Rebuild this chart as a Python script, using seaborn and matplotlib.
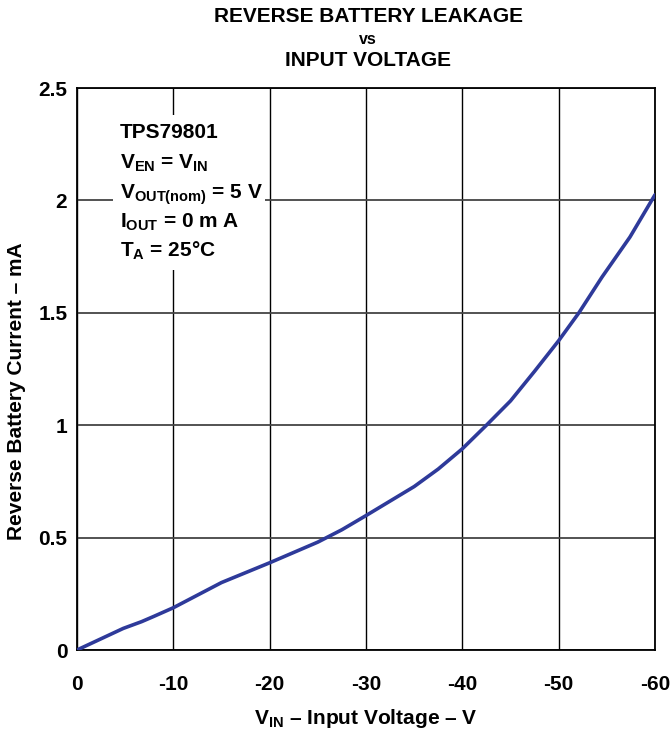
import numpy as np
import pandas as pd
import matplotlib
matplotlib.use("Agg")
import matplotlib.pyplot as plt
from matplotlib.patches import Rectangle
import seaborn as sns

# values
vin = [0, -4.8, -6.7, -8, -10, -15, -20, -25, -27.5, -30, -35, -37.5, -40, -42.5, -45, -47.5, -50, -52.1, -54.5, -57.4, -60]
leak = [0.0, 0.096, 0.126, 0.15, 0.188, 0.3, 0.388, 0.48, 0.535, 0.598, 0.727, 0.805, 0.895, 1.0, 1.108, 1.24, 1.376, 1.5, 1.659, 1.837, 2.025]

xticks = [0, -10, -20, -30, -40, -50, -60]
yticks = [0, 0.5, 1, 1.5, 2, 2.5]
ytick_labels = ["0", "0.5", "1", "1.5", "2", "2.5"]

note_lines = ["TPS79801",
              "V$_{\\mathrm{EN}}$ = V$_{\\mathrm{IN}}$",
              "V$_{\\mathrm{OUT(nom)}}$ = 5 V",
              "I$_{\\mathrm{OUT}}$ = 0 m A",
              "T$_{\\mathrm{A}}$ = 25°C"]

df = pd.DataFrame({"vin": vin, "leak": leak})

sns.set_style("white")
plt.rcParams["font.family"] = ["Liberation Sans", "DejaVu Sans"]
plt.rcParams["font.weight"] = "bold"
plt.rcParams["text.color"] = "black"
plt.rcParams["axes.labelcolor"] = "black"
plt.rcParams["xtick.color"] = "black"
plt.rcParams["ytick.color"] = "black"
plt.rcParams["mathtext.fontset"] = "custom"
plt.rcParams["mathtext.rm"] = "Liberation Sans:bold"
plt.rcParams["mathtext.bf"] = "Liberation Sans:bold"
plt.rcParams["mathtext.it"] = "Liberation Sans:bold"

W, H = 671, 733
fig = plt.figure(figsize=(W / 100, H / 100), dpi=100)
ax = fig.add_axes([77 / W, 1 - 650 / H, (655 - 77) / W, (650 - 88) / H])

sns.lineplot(data=df, x="vin", y="leak", ax=ax, color="#2E3A9A", linewidth=2.6, zorder=4)

ax.set_xlim(0, -60)
ax.set_ylim(0, 2.5)
ax.set_xticks(xticks)
ax.set_xticklabels([str(t) for t in xticks])
ax.set_yticks(yticks)
ax.set_yticklabels(ytick_labels)
ax.xaxis.grid(True, color="black", linewidth=1.0)
ax.yaxis.grid(True, color="#444444", linewidth=1.3)
ax.set_axisbelow(True)
for s in ax.spines.values():
    s.set_color("black")
    s.set_linewidth(1.3)
ax.tick_params(axis="x", length=0, pad=18, labelsize=15)
ax.tick_params(axis="y", length=0, pad=7, labelsize=15)

ax.set_xlabel("V$_{\\mathrm{IN}}$ – Input Voltage – V", fontsize=15, fontweight="bold", labelpad=9)
ax.set_ylabel("Reverse Battery Current – mA", fontsize=15, fontweight="bold", labelpad=6)
ax.yaxis.set_label_coords(-0.088, 0.46)

fig.text(368 / W, 1 - 17 / H, "REVERSE BATTERY LEAKAGE", ha="center", va="center", fontsize=15, fontweight="bold")
fig.text(368 / W, 1 - 40 / H, "vs", ha="center", va="center", fontsize=11.5, fontweight="bold")
fig.text(368 / W, 1 - 60 / H, "INPUT VOLTAGE", ha="center", va="center", fontsize=15, fontweight="bold")

# white box behind the conditions text
ax.add_patch(Rectangle((-3.7, 1.69), -15.8, 0.69, facecolor="white", edgecolor="none", zorder=2))
baselines = [138, 169, 199, 228, 257]
for txt, yb in zip(note_lines, baselines):
    fig.text(120 / W, 1 - yb / H, txt, ha="left", va="baseline", fontsize=15, fontweight="bold", zorder=5)

fig.savefig("out.png", dpi=100)
